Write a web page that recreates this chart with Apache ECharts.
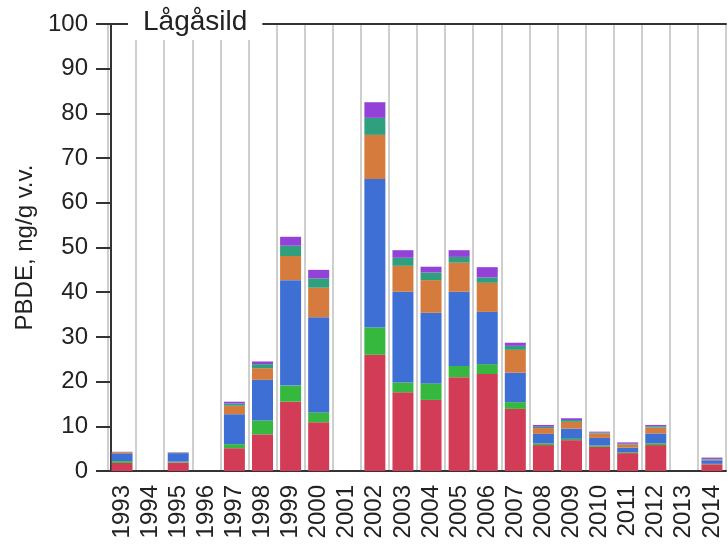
<!DOCTYPE html>
<html>
<head>
<meta charset="utf-8">
<script src="https://cdn.jsdelivr.net/npm/echarts@6/dist/echarts.min.js"></script>
<style>
  html, body { margin: 0; padding: 0; background: #fff; }
  #chart { width: 728px; height: 548px; }
</style>
</head>
<body>
<div id="chart"></div>
<script>
// Sampling years (herring, Lågåsild)
const years = ['1993','1994','1995','1996','1997','1998','1999','2000','2001','2002','2003',
               '2004','2005','2006','2007','2008','2009','2010','2011','2012','2013','2014'];

// PBDE congener concentrations, ng/g wet weight (stacked)
const bde47  = [1.8, null, 1.9, null, 5.1, 8.2, 15.5, 10.9, null, 26.0, 17.6, 15.9, 21.0, 21.7, 13.9, 5.8, 6.9, 5.4, 4.0, 5.8, null, 1.5];
const bde28  = [0.4, null, 0.2, null, 0.9, 3.1, 3.6, 2.2, null, 6.1, 2.2, 3.7, 2.5, 2.2, 1.5, 0.4, 0.3, 0.3, 0.2, 0.4, null, 0.1];
const bde99  = [1.6, null, 1.9, null, 6.7, 9.1, 23.6, 21.3, null, 33.2, 20.3, 15.8, 16.6, 11.7, 6.6, 2.1, 2.3, 1.7, 1.0, 2.2, null, 0.8];
const bde100 = [0.3, null, 0.1, null, 1.9, 2.6, 5.4, 6.6, null, 9.9, 5.8, 7.3, 6.5, 6.5, 5.1, 1.3, 1.5, 1.0, 0.7, 1.3, null, 0.2];
const bde153 = [0.1, null, 0.05, null, 0.5, 0.9, 2.3, 2.1, null, 3.8, 1.8, 1.7, 1.3, 1.2, 0.9, 0.3, 0.4, 0.2, 0.2, 0.3, null, 0.1];
const bde154 = [0.1, null, 0.05, null, 0.4, 0.6, 2.0, 1.9, null, 3.5, 1.7, 1.3, 1.5, 2.3, 0.7, 0.4, 0.4, 0.2, 0.3, 0.3, null, 0.3];

const yTicks = [0, 10, 20, 30, 40, 50, 60, 70, 80, 90, 100];

const seriesDefs = [
  { name: 'BDE-47',  data: bde47,  color: '#d33c57' },
  { name: 'BDE-28',  data: bde28,  color: '#35b83d' },
  { name: 'BDE-99',  data: bde99,  color: '#3d6fd5' },
  { name: 'BDE-100', data: bde100, color: '#d57b3d' },
  { name: 'BDE-153', data: bde153, color: '#2f9f7d' },
  { name: 'BDE-154', data: bde154, color: '#9342d8' }
];

const font = 'Liberation Sans, Arial, Helvetica, sans-serif';
const chart = echarts.init(document.getElementById('chart'), null, { renderer: 'canvas' });

chart.setOption({
  animation: false,
  backgroundColor: '#fff',
  title: {
    text: 'Lågåsild',
    left: 128,
    top: 0,
    padding: [7, 15, 3, 15],
    backgroundColor: '#fff',
    textStyle: { fontFamily: font, fontSize: 28, fontWeight: 'normal', color: '#222', lineHeight: 30 }
  },
  grid: { left: 108, right: 2, top: 24, bottom: 77 },
  xAxis: [{
    type: 'category',
    data: years,
    axisLine: { lineStyle: { color: '#333', width: 2 } },
    axisTick: { show: false },
    axisLabel: { interval: 0, rotate: 90, margin: 14, fontFamily: font, fontSize: 24, color: '#222' },
    splitLine: { show: true, interval: 0, lineStyle: { color: '#cfcfcf', width: 2 } }
  }, {
    type: 'category',
    position: 'top',
    data: years,
    axisLine: { show: true, lineStyle: { color: '#333', width: 2 } },
    axisTick: { show: false },
    axisLabel: { show: false },
    splitLine: { show: false }
  }],
  yAxis: {
    type: 'value',
    min: yTicks[0],
    max: yTicks[yTicks.length - 1],
    interval: 10,
    offset: -3,
    name: 'PBDE, ng/g v.v.',
    nameLocation: 'middle',
    nameRotate: 90,
    nameGap: 74,
    nameTextStyle: { fontFamily: font, fontSize: 24, color: '#222' },
    axisLine: { show: true, lineStyle: { color: '#333', width: 2 } },
    axisTick: { show: true, inside: false, length: 15, lineStyle: { color: '#333', width: 2 } },
    axisLabel: { margin: 23, fontFamily: font, fontSize: 24, color: '#222' },
    splitLine: { show: false }
  },
  series: seriesDefs.map(s => ({
    name: s.name,
    type: 'bar',
    stack: 'pbde',
    data: s.data,
    barWidth: 21,
    itemStyle: { color: s.color }
  }))
});
</script>
</body>
</html>
